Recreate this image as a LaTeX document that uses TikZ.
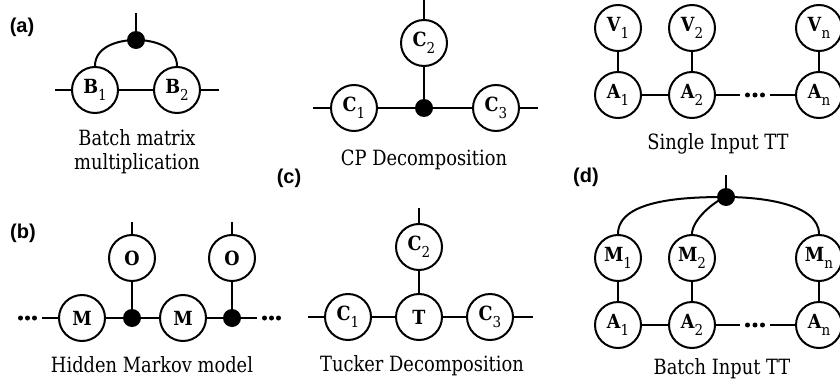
\documentclass[tikz,border=0pt]{standalone}
\usepackage{fontspec}
\setmainfont{DejaVu Serif}[FakeStretch=0.85]
\newfontfamily\labfont{Liberation Sans}
\newfontfamily\nodefont{DejaVu Serif}[FakeStretch=0.9]
\newcommand\nlab[2]{\textbf{#1}\raisebox{-7.5pt}{\fontsize{15}{15}\selectfont #2}}
\tikzset{
  tn/.style={circle, draw, line width=2pt, minimum size=46pt, inner sep=0pt,
    font=\nodefont\fontsize{19.5}{19.5}\selectfont},
  dotn/.style={circle, fill=black, minimum size=18pt, inner sep=0pt},
  capt/.style={font=\fontsize{21}{24}\selectfont, align=center, inner sep=0pt},
  plab/.style={font=\labfont\bfseries\fontsize{20}{20}\selectfont, inner sep=0pt},
  edge/.style={line width=2pt}
}
\begin{document}
\begin{tikzpicture}[x=1pt,y=-1pt]
\useasboundingbox (0,0) rectangle (840,385);
\fill[white] (0,0) rectangle (840,385);

% panel labels
\node[plab] (la) at (22,27) {(a)};
\node[plab] (lb) at (23,233) {(b)};
\node[plab] (lc) at (289,178) {(c)};
\node[plab] (ld) at (586,177) {(d)};

% (a) batch matrix multiplication
\node[tn] (B1) at (95,90) {\nlab{B}{1}};
\node[tn] (B2) at (177,90) {\nlab{B}{2}};
\node[dotn] (bd) at (136,40) {};
\coordinate (bl) at (55,90);
\coordinate (br) at (219,90);
\coordinate (bt) at (136,13);
\draw[edge] (bl) -- (B1) -- (B2) -- (br);
\draw[edge] (B1.north) to[out=90,in=180] (bd.center) to[out=0,in=90] (B2.north);
\draw[edge] (bd) -- (bt);
\node[capt] (capa) at (137,152) {Batch matrix\\multiplication};

% CP decomposition
\node[tn] (C1) at (354,108) {\nlab{C}{1}};
\node[tn] (C2) at (424,43) {\nlab{C}{2}};
\node[tn] (C3) at (496,108) {\nlab{C}{3}};
\node[dotn] (cd) at (424,108) {};
\coordinate (cl) at (313,108);
\coordinate (cr) at (538,108);
\coordinate (ct) at (424,0);
\draw[edge] (cl) -- (C1) -- (cd) -- (C3) -- (cr);
\draw[edge] (C2) -- (cd);
\draw[edge] (C2) -- (ct);
\node[capt] (capc) at (424,160) {CP Decomposition};

% Single input TT
\node[tn] (V1) at (618,28) {\nlab{V}{1}};
\node[tn] (V2) at (692,28) {\nlab{V}{2}};
\node[tn] (Vn) at (819,28) {\nlab{V}{n}};
\node[tn] (A1) at (618,95) {\nlab{A}{1}};
\node[tn] (A2) at (692,95) {\nlab{A}{2}};
\node[tn] (An) at (819,95) {\nlab{A}{n}};
\coordinate (sa) at (740,95);
\coordinate (sb) at (770,95);
\draw[edge] (V1) -- (A1);
\draw[edge] (V2) -- (A2);
\draw[edge] (Vn) -- (An);
\draw[edge] (A1) -- (A2) -- (sa);
\draw[edge] (sb) -- (An);
\foreach \x in {747.5,755,762.5} \fill (\x,95) circle (2.5pt);
\node[capt] (capd1) at (718,144) {Single Input TT};

% Hidden Markov model
\node[tn] (M1) at (82,318) {\textbf{M}};
\node[tn] (M2) at (183,318) {\textbf{M}};
\node[tn] (O1) at (132,258) {\textbf{O}};
\node[tn] (O2) at (232,258) {\textbf{O}};
\node[dotn] (hd1) at (132,318) {};
\node[dotn] (hd2) at (232,318) {};
\coordinate (hl) at (42,318);
\coordinate (hr) at (257,318);
\coordinate (ht1) at (132,222);
\coordinate (ht2) at (232,222);
\draw[edge] (hl) -- (M1) -- (hd1) -- (M2) -- (hd2) -- (hr);
\draw[edge] (O1) -- (hd1);
\draw[edge] (O2) -- (hd2);
\draw[edge] (O1) -- (ht1);
\draw[edge] (O2) -- (ht2);
\foreach \x in {20.5,27.5,34.5} \fill (\x,318) circle (2.5pt);
\foreach \x in {264.5,271.5,278.5} \fill (\x,318) circle (2.5pt);
\node[capt] (capb) at (152,365) {Hidden Markov model};

% Tucker decomposition
\node[tn] (TC1) at (348,317) {\nlab{C}{1}};
\node[tn] (TT) at (419,317) {\textbf{T}};
\node[tn] (TC3) at (490,317) {\nlab{C}{3}};
\node[tn] (TC2) at (419,247) {\nlab{C}{2}};
\coordinate (tl) at (308,317);
\coordinate (tr) at (533,317);
\coordinate (tt) at (419,208);
\draw[edge] (tl) -- (TC1) -- (TT) -- (TC3) -- (tr);
\draw[edge] (TC2) -- (TT);
\draw[edge] (TC2) -- (tt);
\node[capt] (capt2) at (422,366) {Tucker Decomposition};

% Batch input TT
\node[tn] (BM1) at (618,258) {\nlab{M}{1}};
\node[tn] (BM2) at (692,258) {\nlab{M}{2}};
\node[tn] (BMn) at (819,258) {\nlab{M}{n}};
\node[tn] (BA1) at (618,325) {\nlab{A}{1}};
\node[tn] (BA2) at (692,325) {\nlab{A}{2}};
\node[tn] (BAn) at (819,325) {\nlab{A}{n}};
\node[dotn] (bdd) at (726,197) {};
\coordinate (bdt) at (726,175);
\coordinate (ba) at (740,325);
\coordinate (bb) at (770,325);
\draw[edge] (BM1.north) to[out=90,in=180,looseness=0.8] (bdd.center);
\draw[edge] (BM2.north) to[out=90,in=200,looseness=0.7] (bdd.center);
\draw[edge] (BMn.north) to[out=90,in=0,looseness=0.8] (bdd.center);
\draw[edge] (bdd) -- (bdt);
\draw[edge] (BM1) -- (BA1);
\draw[edge] (BM2) -- (BA2);
\draw[edge] (BMn) -- (BAn);
\draw[edge] (BA1) -- (BA2) -- (ba);
\draw[edge] (bb) -- (BAn);
\foreach \x in {747.5,755,762.5} \fill (\x,325) circle (2.5pt);
\node[capt] (capd2) at (722,369) {Batch Input TT};
\end{tikzpicture}
\end{document}
